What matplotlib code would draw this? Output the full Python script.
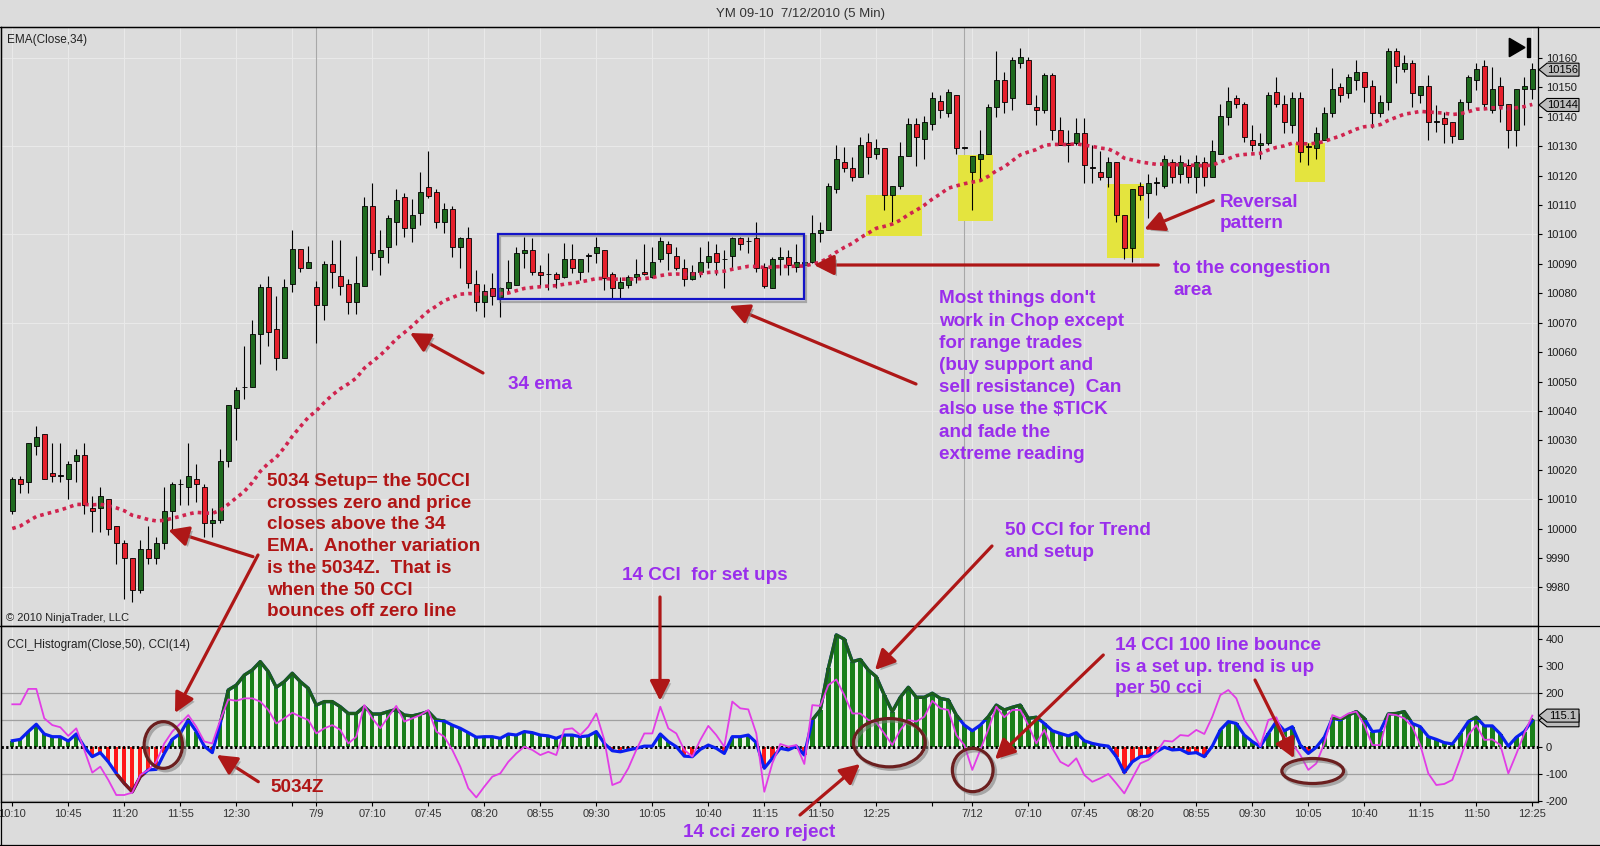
import numpy as np
import matplotlib
matplotlib.use("Agg")
import matplotlib.pyplot as plt
from matplotlib.patches import Rectangle, Ellipse, Polygon, FancyArrowPatch
from matplotlib.lines import Line2D
from matplotlib.transforms import IdentityTransform
import matplotlib.patheffects as pe

plt.rcParams['font.family'] = ['Liberation Sans', 'DejaVu Sans']

# ---------------- data ----------------
opens = [10006, 10017, 10016, 10028, 10032, 10019, 10018, 10017, 10023, 10025,
         10007, 10007, 10010, 10001, 9995, 9990, 9979, 9993, 9990, 9995,
         10006, 10015, 10014, 10017, 10014, 10002, 10003, 10023, 10041, 10048,
         10048, 10066, 10082, 10068, 10058, 10083, 10095, 10088.5, 10082, 10076,
         10090, 10086, 10083, 10077, 10082.6, 10109.7, 10092.4, 10095.6, 10104.3, 10112.8,
         10102.3, 10107.4, 10116.2, 10114.5, 10104.3, 10108.5, 10095.6, 10098.7, 10083, 10077,
         10081.7, 10078.8, 10081.7, 10082.8, 10093.6, 10094.7, 10087.3, 10086.4, 10086.4, 10085.6,
         10091.5, 10087.3, 10092.7, 10093.6, 10094.7, 10086.4, 10081.7, 10082.8, 10085.6, 10087.3,
         10085.6, 10091.5, 10096.7, 10092.7, 10088.5, 10084.7, 10087.3, 10090.5, 10093.6, 10091.5,
         10092.7, 10098.7, 10097.6, 10098.7, 10089.0, 10081.7, 10091.5, 10092.4, 10089.0, 10089.6,
         10090.5, 10100.4, 10101.5, 10115.3, 10124.5, 10122.5, 10119.4, 10131.3, 10127.3, 10129.3,
         10113.4, 10116.5, 10126.7, 10137.4, 10132.3, 10137.4, 10145.4, 10141.2, 10147.4, 10129.3,
         10121.3, 10125.5, 10127.3, 10143.2, 10152.5, 10146.3, 10158.2, 10159.3, 10143.2, 10142.3,
         10154.2, 10135.5, 10131.2, 10131.2, 10134.4, 10122.7, 10121.3, 10119.4, 10124.5, 10106.6,
         10095.3, 10116.5, 10114.2, 10117.4, 10116.5, 10124.5, 10120.5, 10123.6, 10119.4, 10124.5,
         10119.4, 10127.3, 10140.0, 10146.3, 10144.3, 10132.1, 10130.4, 10131.2, 10148.3, 10144.3,
         10137.2, 10146.3, 10129.8, 10129.3, 10132.1, 10141.2, 10150.2, 10148.2, 10152.5, 10155.3,
         10150.5, 10141.2, 10145.1, 10162.5, 10156.1, 10158.2, 10147.4, 10150.5, 10138.3, 10139.5,
         10138.3, 10132.3, 10145.1, 10152.5, 10157.3, 10142.3, 10150.5, 10144.3, 10135.5, 10149.3,
         10149.3]
highs = [10017.5, 10018, 10029, 10035, 10032, 10029, 10029, 10023, 10027, 10029,
         10011, 10014, 10010, 10001, 9996, 9990, 9996, 10001, 9997, 10014,
         10016, 10017, 10029, 10022, 10015, 10007, 10027, 10042, 10048, 10062,
         10071, 10083, 10086, 10079, 10085, 10101.5, 10095, 10096, 10084, 10091,
         10098, 10098, 10085, 10092.6, 10112.8, 10117.6, 10101.5, 10106.6, 10115.3, 10114.2,
         10111.9, 10121.3, 10128.5, 10115.3, 10110.8, 10109.7, 10099.2, 10102.6, 10088, 10083,
         10087, 10082.2, 10091.3, 10095.8, 10099.2, 10098.7, 10089.6, 10093.6, 10087.3, 10097.0,
         10096.7, 10091.5, 10093.6, 10099.2, 10094.7, 10087.3, 10085.6, 10086.2, 10091.5, 10096.7,
         10095.6, 10099.2, 10097.6, 10095.6, 10091.5, 10089.6, 10095.6, 10097.6, 10096.7, 10094.7,
         10099.2, 10099.2, 10099.2, 10104.3, 10090.2, 10092.4, 10095.6, 10094.7, 10096.7, 10090.5,
         10106.6, 10104.3, 10117.4, 10130.4, 10129.6, 10126.4, 10133.2, 10134.4, 10132.4, 10129.3,
         10116.5, 10131.3, 10139.5, 10139.5, 10140.3, 10148.5, 10147.4, 10149.3, 10147.4, 10129.5,
         10126.7, 10135.5, 10144.3, 10162.5, 10155.3, 10160.4, 10163.3, 10160.2, 10147.4, 10155.0,
         10155.0, 10140.0, 10135.5, 10139.5, 10139.5, 10130.4, 10128.5, 10126.4, 10124.5, 10106.6,
         10115.3, 10117.9, 10120.5, 10119.6, 10127.0, 10125.5, 10127.0, 10125.5, 10127.0, 10126.4,
         10132.1, 10144.3, 10150.2, 10147.4, 10145.1, 10137.2, 10134.4, 10148.5, 10153.6, 10147.4,
         10148.3, 10148.3, 10131.0, 10136.6, 10143.4, 10156.5, 10151.4, 10154.5, 10159.3, 10155.3,
         10152.5, 10147.4, 10163.3, 10163.3, 10161.0, 10159.3, 10150.5, 10154.2, 10144.0, 10141.7,
         10138.3, 10145.9, 10154.2, 10158.2, 10159.3, 10157.0, 10153.4, 10144.3, 10149.3, 10153.4,
         10158.2]
lows = [10005, 10012, 10012, 10025, 10017, 10016, 10016, 10010, 10016, 10005,
        9999, 9999, 9998, 9988, 9976, 9975, 9978, 9988, 9988, 9993,
        9999, 10008, 10008, 10009, 9997, 9997, 10002, 10021, 10030, 10044,
        10048, 10056, 10062, 10054, 10058, 10080.5, 10087.3, 10088.5, 10063, 10071,
        10081.7, 10079.4, 10073, 10073, 10082.6, 10088, 10086.2, 10090.2, 10096.4, 10099.2,
        10097.5, 10103.2, 10112.3, 10102.1, 10100.4, 10092.4, 10088.5, 10081.7, 10074, 10072,
        10076, 10072, 10080.0, 10082.8, 10088.5, 10086.2, 10082.2, 10081.1, 10081.7, 10085.1,
        10086.8, 10084.5, 10087.3, 10090.2, 10081.1, 10078.3, 10078.3, 10081.7, 10083.4, 10086.2,
        10085.1, 10090.7, 10087.9, 10087.9, 10082.5, 10084.5, 10085.6, 10088.5, 10086.2, 10081.7,
        10088.5, 10094.7, 10093.6, 10087.3, 10081.7, 10081.7, 10086.2, 10086.2, 10087.3, 10085.6,
        10090.2, 10097.5, 10101.5, 10114.2, 10121.3, 10118.3, 10119.4, 10120.5, 10125.5, 10108.3,
        10104.3, 10115.3, 10126.7, 10123.3, 10125.5, 10135.5, 10139.5, 10140.0, 10127.3, 10129.0,
        10108.3, 10118.5, 10127.3, 10140.0, 10141.2, 10142.3, 10156.5, 10144.3, 10137.2, 10141.2,
        10132.1, 10130.4, 10124.7, 10130.4, 10117.4, 10117.4, 10118.5, 10116.2, 10104.3, 10091.5,
        10090.7, 10111.7, 10105.5, 10113.4, 10115.7, 10117.4, 10117.4, 10117.4, 10114.2, 10116.5,
        10119.4, 10127.3, 10137.2, 10142.9, 10131.5, 10128.5, 10125.5, 10130.4, 10143.2, 10134.4,
        10134.4, 10124.7, 10123.6, 10125.5, 10132.1, 10140.0, 10145.1, 10146.3, 10149.1, 10145.1,
        10136.1, 10140.0, 10142.3, 10151.4, 10155.3, 10143.4, 10144.6, 10132.1, 10134.9, 10131.2,
        10131.2, 10132.3, 10142.3, 10149.1, 10142.5, 10141.2, 10138.3, 10129.3, 10130.2, 10137.2,
        10145.9]
closes = [10017, 10015, 10029, 10031, 10017, 10018, 10018, 10022, 10025, 10008,
          10006, 10011, 10000, 9995, 9990, 9979, 9993, 9990, 9995, 10006,
          10015, 10015, 10018, 10015, 10002, 10003, 10023, 10042, 10047, 10048,
          10066, 10082, 10067, 10058, 10082, 10095, 10088.5, 10090.5, 10076, 10090,
          10087.3, 10082.5, 10077, 10083.6, 10109.7, 10093.6, 10094.7, 10105.5, 10111.7, 10102.3,
          10106.6, 10114.5, 10113.1, 10104.3, 10108.5, 10095.6, 10098.7, 10083.6, 10077, 10080.7,
          10079, 10081.7, 10083.7, 10093.6, 10094.7, 10087.3, 10086.2, 10086.4, 10084.7, 10091.5,
          10088.5, 10091.5, 10092.7, 10095.6, 10085.1, 10081.7, 10083.7, 10085.6, 10086.4, 10086.4,
          10090.5, 10097.6, 10093.6, 10088.5, 10084.7, 10087.3, 10090.5, 10092.7, 10090.5, 10091.5,
          10098.7, 10096.7, 10097.6, 10088.5, 10082.5, 10091.5, 10092.4, 10089.6, 10090.5, 10090.5,
          10100.4, 10101.5, 10116.5, 10125.5, 10122.5, 10119.4, 10130.4, 10126.4, 10129.3, 10113.4,
          10116.5, 10126.7, 10137.4, 10133.2, 10138.3, 10146.3, 10142.3, 10148.3, 10129.3, 10129.3,
          10126.7, 10127.3, 10143.2, 10152.5, 10145.1, 10159.3, 10160.2, 10144.3, 10142.3, 10154.2,
          10135.5, 10130.4, 10130.4, 10134.4, 10123.6, 10122.7, 10119.4, 10124.5, 10106.6, 10095.3,
          10115.3, 10113.4, 10117.4, 10117.4, 10125.5, 10119.4, 10124.5, 10119.4, 10124.5, 10119.4,
          10128.5, 10140.3, 10145.4, 10144.3, 10133.2, 10130.4, 10131.2, 10147.4, 10144.3, 10138.3,
          10146.3, 10128.1, 10129.8, 10134.4, 10141.2, 10149.3, 10147.4, 10153.6, 10155.3, 10150.2,
          10141.2, 10145.1, 10162.5, 10157.3, 10158.2, 10148.2, 10150.5, 10138.3, 10138.3, 10137.5,
          10133.5, 10145.1, 10153.4, 10156.1, 10144.3, 10149.3, 10144.0, 10135.5, 10149.3, 10150.5,
          10156.1]

cci50 = [22, 27, 56, 83, 47, 37, 37, 21, 47, 0,
         -37, -22, -56, -99, -136, -167, -111, -86, -84, -25,
         27, 49, 99, 56, 2, -22, 86, 210, 228, 265,
         284, 315, 278, 220, 241, 272, 241, 216, 154, 167,
         167, 148, 123, 123, 148, 121, 121, 130, 138, 117,
         114, 121, 130, 99, 95, 80, 68, 52, 35, 37,
         37, 31, 47, 43, 56, 52, 43, 40, 31, 43,
         43, 37, 40, 56, 12, -15, -19, -12, -6, 2,
         2, 47, 19, 0, -35, -37, -10, 6, -6, -25,
         37, 37, 43, 15, -80, -43, -6, -12, 2, -31,
         99, 136, 290, 414, 398, 315, 323, 284, 259, 191,
         130, 183, 220, 183, 183, 198, 179, 173, 117, 80,
         59, 80, 111, 154, 136, 146, 154, 105, 109, 86,
         59, 49, 40, 52, 22, 12, 6, 2, -37, -96,
         -56, -37, -35, -19, -2, -12, -10, -25, -22, -37,
         2, 62, 93, 86, 43, 19, 0, 49, 93, 59,
         74, 6, -25, -2, 35, 105, 99, 117, 130, 105,
         56, 59, 121, 123, 130, 86, 74, 37, 27, 15,
         10, 49, 93, 109, 77, 77, 47, 2, 35, 56,
         97.8]
cci14 = [157, 157, 214, 214, 105, 80, 72, 40, 68, -12,
         -96, -74, -123, -179, -179, -170, -105, -86, -56, 12,
         56, 86, 117, 74, 19, 12, 99, 175, 170, 179,
         179, 167, 136, 86, 105, 126, 111, 99, 49, 68,
         80, 62, 12, 37, 154, 105, 68, 111, 151, 93,
         105, 117, 136, 56, 37, -12, -74, -154, -188, -148,
         -111, -99, -56, -25, 0, -12, -31, -19, -31, 64,
         68, 43, 74, 123, 25, -142, -130, -80, -12, 49,
         49, 148, 68, 49, -12, -37, 25, 77, 43, 0,
         167, 142, 138, 49, -167, -62, 10, 0, 6, -64,
         154, 151, 228, 249, 191, 123, 123, 99, 89, 49,
         6, 62, 99, 93, 111, 170, 142, 136, 43, 6,
         -86, -12, 64, 148, 109, 136, 136, 80, 12, 62,
         -6, -56, -72, -43, -105, -130, -117, -101, -136, -173,
         -117, -62, -49, -22, 22, 19, 43, 40, 62, 47,
         111, 191, 210, 179, 99, 56, 2, 99, 109, 37,
         12, -31, -86, -62, 12, 117, 105, 123, 130, 80,
         6, 6, 121, 117, 105, 74, 6, -99, -142, -138,
         -123, -43, 43, 80, 25, 27, 6, -99, -27, 49,
         115.1]

tick_bars = [0, 7, 14, 21, 28, 35, 38, 45, 52, 59, 66, 73, 80, 87, 94, 101, 108, 115,
             120, 127, 134, 141, 148, 155, 162, 169, 176, 183, 190]
tick_labels = ['10:10', '10:45', '11:20', '11:55', '12:30', '', '7/9', '07:10', '07:45',
               '08:20', '08:55', '09:30', '10:05', '10:40', '11:15', '11:50', '12:25', '',
               '7/12', '07:10', '07:45', '08:20', '08:55', '09:30', '10:05', '10:40',
               '11:15', '11:50', '12:25']
session_breaks = [38, 119]
price_ticks = list(range(9980, 10161, 10))
price_grid = list(range(9980, 10161, 30))
cci_ticks = [-200, -100, 0, 100, 200, 300, 400]
cci_tick_labels = ['-200', '-100', '0', '', '200', '300', '400']   # 100 is under the value box
cci_levels = [-200, -100, 100, 200]
ema_prior = 9999.0          # EMA value just before the first visible bar
ema_last_label = 10144
close_last_label = 10156
cci14_last_label = 115.1
cci50_last_label = 97.8

# ---------------- figure ----------------
W, H = 1600, 846
BG = '#DCDCDC'
fig = plt.figure(figsize=(16, 8.46), dpi=100)
fig.patch.set_facecolor(BG)


def fx(x):
    return x / W


def fy(y):
    return 1 - y / H


ax1 = fig.add_axes([fx(1), fy(626), fx(1538) - fx(1), fy(27.3) - fy(626)])
ax2 = fig.add_axes([fx(1), fy(802.3), fx(1538) - fx(1), fy(626) - fy(802.3)])
for ax in (ax1, ax2):
    ax.set_facecolor(BG)
    ax.set_xlim(-1.41, 190.71)
    for s in ax.spines.values():
        s.set_color('black')
        s.set_linewidth(0.9)
    for t in tick_bars:
        ax.axvline(t, color='#E9E9E9', lw=0.8, zorder=0)
    for t in session_breaks:
        ax.axvline(t, color='#A8A8A8', lw=0.8, zorder=0.5)

ax1.set_ylim(9966.9, 10170.4)
ax2.set_ylim(-206, 447)

for p in price_grid:
    ax1.axhline(p, color='#E9E9E9', lw=0.8, zorder=0)

n = len(closes)
idx = np.arange(n)
o = np.array(opens, float)
c = np.array(closes, float)
hi = np.array(highs, float)
lo = np.array(lows, float)

# yellow highlight boxes (bar index span, price span)
yellow_boxes = [(106.7, 113.7, 10099.6, 10113.4), (118.25, 122.6, 10104.7, 10127.0),
                (136.8, 141.4, 10091.9, 10117.2), (160.3, 164.1, 10117.9, 10131.0)]
for x0, x1, y0, y1 in yellow_boxes:
    ax1.add_patch(Rectangle((x0, y0), x1 - x0, y1 - y0, facecolor='#E4E43E',
                            edgecolor='none', zorder=1))

# candles
ax1.vlines(idx, lo, hi, color='black', lw=0.8, zorder=3)
body_lo = np.minimum(o, c)
body_h = np.maximum(np.abs(c - o), 0.3)
cols = np.where(c > o, '#1F6A1F', np.where(c < o, '#E6202C', '#000000'))
ax1.bar(idx, body_h, bottom=body_lo, width=0.6, color=cols, edgecolor='black',
        linewidth=0.6, zorder=4)

# EMA(34) of the closes
k = 2.0 / 35.0
ema = []
prev = ema_prior
for v in closes:
    prev = prev + k * (v - prev)
    ema.append(prev)
ax1.plot(idx, ema, color='#D0234E', lw=2.6, linestyle=(0, (1, 1.15)),
         dash_capstyle='butt', zorder=5)

# outline shadow (stroke only)
line_shadow = [pe.SimpleLineShadow(offset=(1.8, -1.8), shadow_color='#7A7A7A', alpha=0.55),
               pe.Normal()]

# blue congestion rectangle
ax1.add_patch(Rectangle((60.7, 10078.0), 98.9 - 60.7, 10100.2 - 10078.0, fill=False,
                        edgecolor='#1414C8', lw=1.6, zorder=6, path_effects=line_shadow))

ax1.yaxis.tick_right()
ax1.set_yticks(price_ticks)
ax1.set_yticklabels([str(p) for p in price_ticks])
ax1.tick_params(axis='y', direction='out', length=3, width=0.8, pad=2.5,
                labelsize=8, labelcolor='#1E1E1E')
ax1.tick_params(axis='x', bottom=False, labelbottom=False)

# ---------------- CCI panel ----------------
v50 = np.array(cci50, float)
v14 = np.array(cci14, float)
for lvl in cci_levels:
    ax2.axhline(lvl, color='#A0A0A0', lw=0.9, zorder=0.6)
ax2.fill_between(idx, 0, v50, color='#EEF3EA', lw=0, zorder=1)
ax2.bar(idx, v50, width=0.55, color=np.where(v50 >= 0, '#1A801A', '#FF1A1A'),
        lw=0, zorder=2)
ax2.axhline(0, color='black', lw=2.1, linestyle=(0, (0.8, 0.8)), zorder=3)
ax2.plot(idx, v50, color='#0A1EF0', lw=2.3, zorder=4, solid_joinstyle='round')
gl, = ax2.plot(idx, v50, color='#1B5E1B', lw=2.4, zorder=4.5, solid_joinstyle='round')
gl.set_clip_path(Rectangle((-10, 100), 300, 1000, transform=ax2.transData))
rl, = ax2.plot(idx, v50, color='#7A1A1A', lw=2.4, zorder=4.5, solid_joinstyle='round')
rl.set_clip_path(Rectangle((-10, -1100), 300, 1000, transform=ax2.transData))
ax2.plot(idx, v14, color='#E23DE6', lw=1.3, zorder=6)

ax2.yaxis.tick_right()
ax2.set_yticks(cci_ticks)
ax2.set_yticklabels(cci_tick_labels)
ax2.tick_params(axis='y', direction='out', length=3, width=0.8, pad=2.5,
                labelsize=8, labelcolor='#1E1E1E')
ax2.set_xticks(tick_bars)
ax2.set_xticklabels(tick_labels)
ax2.tick_params(axis='x', direction='out', length=3, width=0.8, pad=2,
                labelsize=8, labelcolor='#333333')

# ---------------- frame / labels ----------------
for yy in (27.3, 626, 845):
    fig.add_artist(Line2D([0, 1], [fy(yy), fy(yy)], color='black', lw=0.9,
                          transform=fig.transFigure))
fig.add_artist(Line2D([fx(1), fx(1)], [fy(27.3), fy(845)], color='black', lw=0.9,
                      transform=fig.transFigure))

fig.text(0.5, fy(17), 'YM 09-10  7/12/2010 (5 Min)', ha='center', va='baseline',
         fontsize=9.5, color='#333333')
fig.text(fx(7.3), fy(43.3), 'EMA(Close,34)', fontsize=8.5, color='#222222', va='baseline')
fig.text(fx(7.3), fy(648.3), 'CCI_Histogram(Close,50), CCI(14)', fontsize=8.5,
         color='#222222', va='baseline')
fig.text(fx(6), fy(621), '\u00a9 2010 NinjaTrader, LLC', fontsize=8, color='#222222',
         va='baseline')

# go-to-end icon
fig.add_artist(Polygon([(fx(1509.3), fy(38.3)), (fx(1509.3), fy(56.7)), (fx(1525), fy(47.5))],
                       closed=True, color='black', transform=fig.transFigure))
fig.add_artist(Rectangle((fx(1526.5), fy(56.7)), 3.5 / W, 18.4 / H, color='black',
                         transform=fig.transFigure))


def value_box(ax, val, label, z=30):
    y = ax.transData.transform((0, val))[1]
    x0 = ax.transAxes.transform((1, 0))[0]
    hh = 6.5
    pts = [(x0 + 1, y), (x0 + 9, y + hh), (x0 + 41, y + hh), (x0 + 41, y - hh), (x0 + 9, y - hh)]
    fig.add_artist(Polygon(pts, closed=True, facecolor='#BDBDBD', edgecolor='black', lw=0.8,
                           transform=IdentityTransform(), zorder=z))
    if label:
        fig.text(x0 + 25, y, label, transform=IdentityTransform(), ha='center', va='center',
                 fontsize=8, color='black', zorder=z + 1)


value_box(ax1, close_last_label, str(close_last_label))
value_box(ax1, ema_last_label, str(ema_last_label))
value_box(ax2, cci50_last_label, '', z=28)          # mostly hidden behind the next box
value_box(ax2, cci14_last_label, str(cci14_last_label))

# ---------------- annotations ----------------
ARROW = '#AE1717'
PURPLE = '#9A2EEC'
DRED = '#B01515'
FS = 13.6
LS = 21.7


def arrow(x0, y0, x1, y1):
    a = FancyArrowPatch((fx(x0), fy(y0)), (fx(x1), fy(y1)), transform=fig.transFigure,
                        arrowstyle='-|>,head_length=0.75,head_width=0.38', mutation_scale=16,
                        color=ARROW, lw=2.3, shrinkA=0, shrinkB=0, zorder=20,
                        path_effects=[pe.SimplePatchShadow(offset=(2, -2), shadow_rgbFace='#808080',
                                                           alpha=0.55), pe.Normal()])
    fig.add_artist(a)


def ring(cx, cy, w, h):
    e = Ellipse((fx(cx), fy(cy)), w / W, h / H, transform=fig.transFigure, fill=False,
                edgecolor='#6B1F1F', lw=2.3, zorder=20, path_effects=line_shadow)
    fig.add_artist(e)


def words(x, y, lines, color, dy=LS):
    for i, s in enumerate(lines):
        fig.text(fx(x), fy(y + i * dy), s, color=color, fontsize=FS, fontweight='bold',
                 ha='left', va='baseline', zorder=21)


words(508, 389, ['34 ema'], PURPLE)
arrow(483, 373, 410, 333)

words(266.7, 486, ['5034 Setup= the 50CCI', 'crosses zero and price', 'closes above the 34',
                   'EMA.  Another variation', 'is the 5034Z.  That is', 'when the 50 CCI',
                   'bounces off zero line'], DRED)
arrow(253, 556.7, 168.3, 530)
arrow(258, 555, 175, 713)

words(270, 791.7, ['5034Z'], DRED)
arrow(258.3, 781.7, 216.7, 755)
ring(163.3, 745, 38.3, 46.7)

words(939.3, 303.3, ["Most things don't", 'work in Chop except', 'for range trades',
                     '(buy support and', 'sell resistance)  Can', 'also use the $TICK',
                     'and fade the', 'extreme reading'], PURPLE, dy=22.2)
arrow(916, 384, 729.3, 306)

words(1220, 206.7, ['Reversal', 'pattern'], PURPLE)
arrow(1213.3, 200.7, 1144.3, 229.3)

words(1173.3, 273.3, ['to the congestion', 'area'], PURPLE)
arrow(1158.3, 265, 814, 265)

words(622, 580, ['14 CCI  for set ups'], PURPLE)
arrow(660, 597, 660, 700.7)

words(1005, 535, ['50 CCI for Trend', 'and setup'], PURPLE)
arrow(992, 546, 875, 670)

words(683.3, 836.7, ['14 cci zero reject'], PURPLE)
arrow(800, 815, 860, 764)
ring(889.3, 742.7, 71.7, 48.3)
ring(972.7, 770, 40.7, 43.3)

words(1115, 650, ['14 CCI 100 line bounce', 'is a set up. trend is up', 'per 50 cci'], PURPLE)
arrow(1103.3, 655, 995, 759.3)
arrow(1255, 680, 1294, 758.3)
ring(1312.7, 771, 61.7, 25)

fig.savefig('out.png', dpi=100, facecolor=BG)
